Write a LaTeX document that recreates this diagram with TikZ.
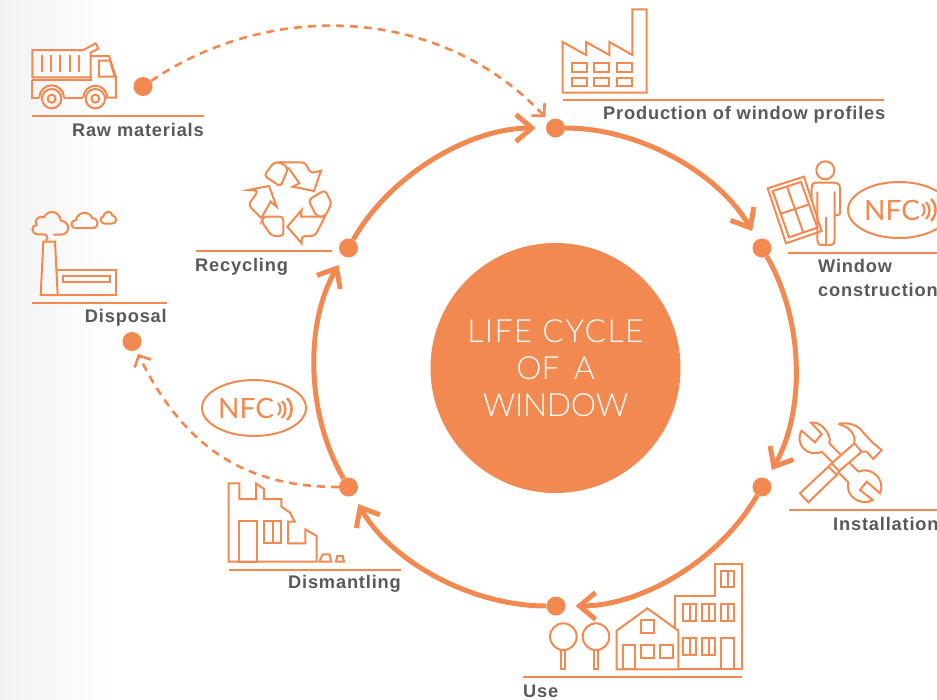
\documentclass[tikz,border=0pt]{standalone}
\usepackage{fontspec}
\usetikzlibrary{arrows.meta}
\setmainfont{Liberation Sans}
\newfontfamily\lightf[UprightFont=* Light]{Lato}
\newfontfamily\nfcf{Lato}
\newfontfamily\labf[UprightFont=* Bold,LetterSpace=4.5]{Liberation Sans}
\definecolor{org}{HTML}{F28950}
\definecolor{txt}{HTML}{58595B}
\tikzset{
  dotn/.style={circle,fill=org,inner sep=0pt,minimum size=19pt,draw=none},
  ring/.style={draw=org,line width=5pt,shorten >=10pt,-{Straight Barb[length=16pt,width=27pt,line width=5pt]}},
  ringdash/.style={draw=org,line width=2.6pt,dash pattern=on 8pt off 6pt,-{Straight Barb[length=9pt,width=18pt,line width=2.6pt]}},
  icon/.style={draw=org,line width=2pt,line join=miter},
  rule/.style={draw=org,line width=2pt},
  lab/.style={text=txt,font=\fontsize{18.25}{20}\labf,inner sep=0pt},
  zm/.style={x=.33333pt,y=-.33333pt},
  hubt/.style={anchor=base,text=white,inner sep=0pt},
  nfct/.style={text=org,inner sep=0pt,font=\fontsize{28}{30}\nfcf,anchor=base west},
}
\begin{document}
\begin{tikzpicture}[x=1pt,y=-1pt]
\useasboundingbox (0,0) rectangle (937,699);
\clip (0,0) rectangle (937,699);
\shade[left color=black!5,right color=white] (0,0) rectangle (115,699);

% centre
\node[circle,fill=org,minimum size=250pt,inner sep=0pt] (hub) at (555.5,368) {};
\node[hubt,font=\fontsize{32}{36}\lightf\addfontfeature{LetterSpace=4}] (t1) at (555.5,342) {LIFE CYCLE};
\node[hubt,font=\fontsize{32}{36}\lightf] (t2) at (555.5,379) {OF\, A};
\node[hubt,font=\fontsize{32}{36}\lightf\addfontfeature{LetterSpace=-1}] (t3) at (555.5,416) {WINDOW};

% ring stations
\node[dotn] (prod) at (555.5,128) {};
\node[dotn] (constr) at (762,248) {};
\node[dotn] (inst) at (762,487) {};
\node[dotn] (use) at (556,606) {};
\node[dotn] (dism) at (348.5,487) {};
\node[dotn] (recy) at (348.5,248) {};
\node[dotn] (raw) at (143,86.5) {};
\node[dotn] (disp) at (132,341.5) {};

\draw[ring] (prod) .. controls (640.4,128) and (719.3,174) .. (constr);
\draw[ring] (constr) .. controls (804.7,322) and (804.7,413) .. (inst);
\draw[ring] (inst) .. controls (719.3,561) and (641,606) .. (use);
\draw[ring] (use) .. controls (470.6,606) and (390.7,561) .. (dism);
\draw[ring] (dism) .. controls (305.3,413) and (305.3,322) .. (recy);
\draw[ring] (recy) .. controls (390.7,174) and (470,128) .. (prod);

\draw[ringdash,shorten >=5pt] (raw) .. controls (270,0) and (440,5) .. (prod);
\draw[ringdash,shorten >=4pt] (dism) .. controls (250,487) and (186,452) .. (disp);

% rules
\draw[rule] (32,116) -- (204,116);
\draw[rule] (196,251) -- (332,251);
\draw[rule] (32,302.5) -- (167,302.5);
\draw[rule] (563,100) -- (884,100);
\draw[rule] (788,253) -- (937,253);
\draw[rule] (789,510) -- (937,510);
\draw[rule] (523,676.5) -- (742,676.5);
\draw[rule] (228.5,569.5) -- (401,569.5);

% labels
\node[lab,anchor=base east] (lraw) at (204,136) {Raw materials};
\node[lab,anchor=base west] (lrec) at (195,271) {Recycling};
\node[lab,anchor=base east] (ldis) at (167,322) {Disposal};
\node[lab,anchor=base west] (lpro) at (603,119.5) {Production of window profiles};
\node[lab,anchor=base west] (lwin) at (818,272.5) {Window};
\node[lab,anchor=base west] (lcon) at (818,296.5) {construction};
\node[lab,anchor=base west] (lins) at (833,530) {Installation};
\node[lab,anchor=base east] (ldsm) at (401,588) {Dismantling};
\node[lab,anchor=base west] (luse) at (523,697) {Use};

% NFC tags
\draw[icon] (899,210) ellipse [x radius=51,y radius=28];
\node[nfct] (nfc1) at (864,220.5) {NFC};
\draw[icon] (254,408) ellipse [x radius=52,y radius=28];
\node[nfct] (nfc2) at (218,418.5) {NFC};
\foreach \cx/\cy in {272/409,916/210}{
  \draw[draw=org,line width=2pt] (\cx+6,\cy-6) arc[start angle=-45,end angle=45,radius=8.5];
  \draw[draw=org,line width=2.3pt] (\cx+10,\cy-8) arc[start angle=-45,end angle=45,radius=12];
  \draw[draw=org,line width=2.5pt] (\cx+15,\cy-11) arc[start angle=-45,end angle=45,radius=15.5];
}

% zoom 1 icons
\begin{scope}[zm]
% truck
\draw[icon] (97,150) -- (250,150) -- (287,130) -- (295,146) -- (272,158) -- (272,232) -- (97,232) -- cycle;
\foreach \x in {125,153,181,209,237} \draw[icon] (\x,165) -- (\x,217);
\draw[icon] (272,168) -- (327,168) -- (348,232) -- (348,293) -- (318,293);
\draw[icon] (297,182) -- (330,182) -- (344,230) -- (297,230) -- cycle;
\draw[icon] (97,240) -- (272,240) -- (272,232);
\draw[icon] (97,240) -- (97,293) -- (118,293);
\draw[icon] (192,293) -- (250,293);
\draw[icon] (118,293) arc[start angle=180,end angle=360,radius=37];
\draw[icon] (250,293) arc[start angle=180,end angle=360,radius=36];
\foreach \x in {155,286}{\draw[icon] (\x,296) circle[radius=29]; \draw[icon] (\x,296) circle[radius=12];}
% disposal factory
\draw[icon] (122,885) -- (130,725) -- (165,725) -- (173,885) -- cycle;
\draw[icon] (170,810) -- (348,810) -- (348,885) -- (122,885);
\draw[icon] (188,828) rectangle (330,845);
\draw[icon] (138,722) .. controls (146,712) and (142,703) .. (128,703) -- (115,703)
  .. controls (92,703) and (92,675) .. (110,675)
  .. controls (98,655) and (125,645) .. (132,652)
  .. controls (142,630) and (175,628) .. (183,662)
  .. controls (212,665) and (212,704) .. (182,704) -- (160,704);
\draw[icon] (228,684) .. controls (208,684) and (212,660) .. (228,660)
  .. controls (232,635) and (268,630) .. (277,655)
  .. controls (298,655) and (298,684) .. (278,684) -- cycle;
\draw[icon] (313,671) .. controls (298,668) and (300,650) .. (310,650)
  .. controls (315,630) and (335,632) .. (337,646)
  .. controls (352,648) and (352,672) .. (335,671) -- cycle;
% recycling symbol
\begin{scope}[rounded corners=3.5pt]
\draw[icon] (792,527) -- (822,487) -- (840,487) -- (865,503) -- (842,560) -- cycle;
\draw[icon] (840,487) -- (915,487) -- (932,520) [sharp corners] -- (963,512) -- (942,573) -- (878,560) -- (898,550) -- (865,503);
\draw[icon] (925,600) -- (975,570) -- (995,610) -- (975,650) -- (950,650) -- cycle;
\draw[icon] (975,650) -- (945,708) -- (905,708) [sharp corners] -- (905,730) -- (862,680) -- (905,630) -- (903,650) -- cycle;
\draw[icon] (850,650) -- (850,708) -- (815,708) -- (785,665) -- (790,650) -- cycle;
\draw[icon] (785,655) -- (745,615) -- (775,572) [sharp corners] -- (745,570) -- (807,558) -- (830,620) -- (812,605) -- (785,652);
\end{scope}
\end{scope}

% zoom 2 icons
\begin{scope}[shift={(540,0)},zm]
\draw[icon] (68,278) -- (68,126) -- (138,165) -- (138,126) -- (208,165) -- (208,126) -- (277,165) -- (277,28) -- (320,28) -- (320,278) -- cycle;
\foreach \x/\xx in {95/140,163/208,231/277}{
  \draw[icon] (\x,189) rectangle (\xx,215);
  \draw[icon] (\x,233) rectangle (\xx,258);
}
% window carried by person
\draw[icon] (683,565) -- (792,530) -- (845,693) -- (738,730) -- cycle;
\draw[icon] (698,573) -- (783,546) -- (832,683) -- (747,712) -- cycle;
\draw[icon] (741,560) -- (790,698);
\draw[icon] (723,641) -- (808,613);
\draw[icon] (856,511) circle[radius=27];
\draw[icon] (885,645) -- (893,645) .. controls (899,645) and (900,642) .. (900,638) -- (900,565) .. controls (900,552) and (892,548) .. (880,548) -- (832,548) .. controls (820,548) and (815,552) .. (815,565) -- (815,605);
\draw[icon] (832,575) -- (832,715) .. controls (832,730) and (835,735) .. (845,735) -- (870,735) .. controls (880,735) and (884,730) .. (884,715) -- (884,575);
\draw[icon] (857,650) -- (857,735);
\end{scope}

% zoom 3 icons
\begin{scope}[shift={(520,410)},zm]
% screwdriver and hammer handle
\draw[icon] (840,250) -- (925,170) -- (950,195) -- (865,277) -- cycle;
\draw[icon] (925,170) -- (935,160) -- (958,183) -- (950,195);
\draw[icon] (935,160) -- (1003,100);
\draw[icon] (958,183) -- (1025,125);
% hammer head
\draw[icon] (955,42) .. controls (985,35) and (1015,45) .. (1030,68) -- (1060,100) -- (1085,120) -- (1060,147) -- (1040,125) -- (1025,125) -- (1003,100) .. controls (1008,75) and (990,50) .. (955,42);
% wrench
\draw[icon] (937,157) -- (905,125) .. controls (864,145) and (822,102) .. (845,62) -- (885,97) -- (905,72) -- (873,38) .. controls (901,31) and (937,74) .. (928,100) -- (963,135);
\draw[icon] (987,157) -- (1015,185) .. controls (1055,167) and (1098,210) .. (1080,250) -- (1040,215) -- (1020,240) -- (1058,270) .. controls (1022,291) and (974.5,258) .. (985,217) -- (955,187);
% trees
\foreach \x in {130,228}{
  \draw[icon] (\x,680) circle[radius=40];
  \draw[icon] (\x-7,720) rectangle (\x+6,778);
}
% house
\draw[icon] (290,778) -- (290,662) -- (382,595) -- (475,662) -- (475,778) -- cycle;
\draw[icon] (363,630) rectangle (403,668);
\draw[icon] (308,705) rectangle (346,778);
\draw[icon] (364,705) rectangle (403,743);
\draw[icon] (420,705) rectangle (460,743);
% block
\draw[icon] (465,655) -- (465,557) -- (585,557) -- (585,462) -- (665,462) -- (665,778) -- (475,778);
\foreach \a/\b/\c/\d in {603/482/642/532,490/582/528/632,546/582/585/632,603/582/642/632,490/685/528/735,546/685/585/735}{
  \draw[icon] (\a,\b) rectangle (\c,\d);
  \draw[icon] ({(\a+\c)/2},\b) -- ({(\a+\c)/2},\d);
}
\draw[icon] (603,685) rectangle (642,778);
\end{scope}

% zoom 4 icon
\begin{scope}[shift={(190,370)},zm]
\draw[icon] (116,575) -- (116,340) -- (148,340) -- (148,387) -- (198,387) -- (198,340) -- (222,357) -- (222,387) -- (274,387) -- (274,410) -- (300,428) -- (314,455) -- (294,455) -- (294,520) -- (346,520) -- (346,478) -- (380,498) -- (380,575) -- cycle;
\draw[icon] (147,453) rectangle (200,575);
\draw[icon] (222,453) rectangle (274,520);
\draw[icon] (248,453) -- (248,520);
\draw[icon] (388,575) -- (398,553) -- (418,553) -- (424,575) -- cycle;
\draw[icon] (438,575) -- (442,558) -- (458,558) -- (462,575) -- cycle;
\end{scope}
\end{tikzpicture}
\end{document}
